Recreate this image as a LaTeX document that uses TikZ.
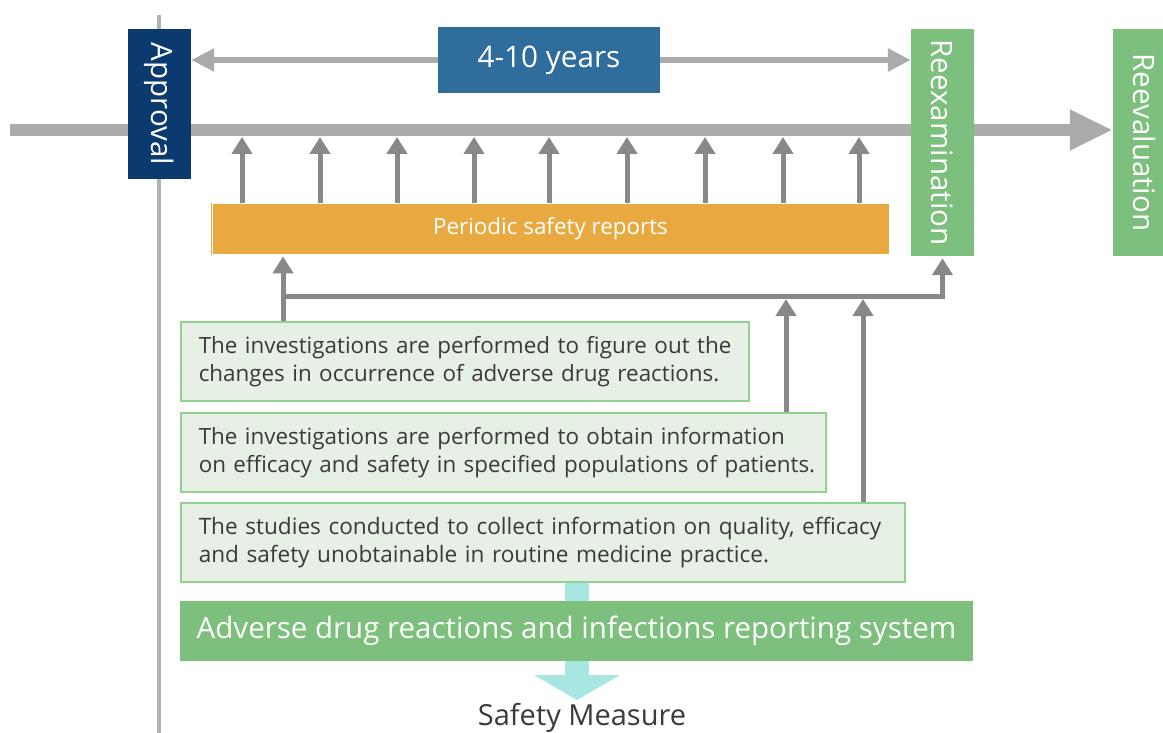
\documentclass[tikz,border=0pt]{standalone}
\usepackage{fontspec}
\setmainfont{Open Sans}
\usetikzlibrary{arrows.meta,backgrounds}
\definecolor{navy}{HTML}{0B3A6E}
\definecolor{yrsblue}{HTML}{2E6D9C}
\definecolor{grn}{HTML}{7DBF7D}
\definecolor{org}{HTML}{E8AA40}
\definecolor{lgrn}{HTML}{E7F0E5}
\definecolor{grnline}{HTML}{93D193}
\definecolor{tlgray}{HTML}{ABABAB}
\definecolor{vgray}{HTML}{B3B3B3}
\definecolor{arrgray}{HTML}{888888}
\definecolor{cyanarr}{HTML}{A8E6E2}
\definecolor{txt}{HTML}{3A3A3A}
\begin{document}
\begin{tikzpicture}[x=1pt,y=-1pt,
  vbox/.style={fill=#1, draw=none, minimum width=63pt, inner sep=0pt, text=white},
  gbox/.style={fill=lgrn, draw=grnline, line width=1.5pt, inner xsep=18pt, inner ysep=0pt,
    align=left, text=txt, anchor=north west, minimum height=79pt,
    font=\fontsize{22.4}{28}\selectfont},
  garrow/.style={line width=5pt, arrgray, -{Triangle[length=17pt,width=20pt]}},
  fbline/.style={line width=5pt, arrgray, line join=miter}
]
\useasboundingbox (0,0) rectangle (1163,733);
\clip (0,0) rectangle (1163,733);

% nodes
\node[vbox=navy, minimum height=150pt] (approval) at (159.5,104)
  {\rotatebox{-90}{\fontsize{29.5}{34}\selectfont Approval}};
\node[vbox=grn, minimum height=227pt] (reexam) at (942.5,142.5)
  {\rotatebox{-90}{\fontsize{29.5}{34}\selectfont Reexamination}};
\node[vbox=grn, minimum height=227pt] (reeval) at (1144.5,142.5)
  {\rotatebox{-90}{\fontsize{29.5}{34}\selectfont Reevaluation}};
\node[fill=yrsblue, minimum width=222pt, minimum height=66pt, inner sep=0pt, text=white,
  font=\fontsize{29.7}{34}\selectfont] (yrs) at (549,60) {4-10 years};
\node[fill=org, draw=org, double=white, double distance=1pt, line width=0.8pt,
  minimum width=677pt, minimum height=50pt, inner sep=0pt, text=white,
  font=\fontsize{22.4}{26}\selectfont] (psr) at (550.5,229) {Periodic safety reports};
\node[gbox, text width=532pt] (inv1) at (180,321)
  {\mbox{The investigations are performed to figure out the}\\\mbox{changes in occurrence of adverse drug reactions.}};
\node[gbox, text width=609pt] (inv2) at (180,412)
  {\mbox{The investigations are performed to obtain information}\\\mbox{on efficacy and safety in specified populations of patients.}};
\node[gbox, text width=688pt, font=\fontsize{22.6}{28}\selectfont] (inv3) at (180,502)
  {\mbox{The studies conducted to collect information on quality, efficacy}\\\mbox{and safety unobtainable in routine medicine practice.}};
\node[fill=grn, minimum width=793pt, minimum height=60pt, inner sep=0pt, text=white,
  font=\fontsize{29.5}{34}\selectfont] (adr) at (576.5,631)
  {Adverse drug reactions and infections reporting system};
\node[text=txt, inner sep=0pt, font=\fontsize{29}{32}\selectfont] (safety) at (582,718) {Safety Measure};

\coordinate (vtop) at (159,15);
\coordinate (vbot) at (159,733);
\coordinate (tls) at (10,130);
\coordinate (tlb) at (0,137);
\coordinate (fb) at (283,296);
\coordinate (fbb) at (0,299);
\coordinate (cyantip) at (577,700);

\begin{scope}[on background layer]
  \draw[line width=4pt, vgray] (vtop) -- (vbot);
  \draw[line width=12pt, tlgray, -{Triangle[length=43pt,width=38pt]}] (tls) -- (tls -| reeval.west);
  \draw[line width=6pt, tlgray, {Triangle[length=23pt,width=22pt]}-{Triangle[length=23pt,width=22pt]}]
    (approval.east |- yrs) -- (reexam.west |- yrs);
  \foreach \x in {242,320,397,474,549,627,705,783,859}
    \draw[garrow] (psr.north -| \x,0) -- (tlb -| \x,0);
  \draw[garrow, shorten >=2pt] (inv1.north -| fb) -- (psr.south -| fb);
  \draw[fbline, -{Triangle[length=17pt,width=20pt]}, shorten >=2pt] (fb) -| (reexam.south);
  \draw[garrow] (inv2.north -| 786,0) -- (fbb -| 786,0);
  \draw[garrow] (inv3.north -| 863,0) -- (fbb -| 863,0);
  \draw[line width=24pt, cyanarr, -{Triangle[length=25pt,width=85pt]}] (inv3.south -| cyantip) -- (cyantip);
\end{scope}
\end{tikzpicture}
\end{document}
